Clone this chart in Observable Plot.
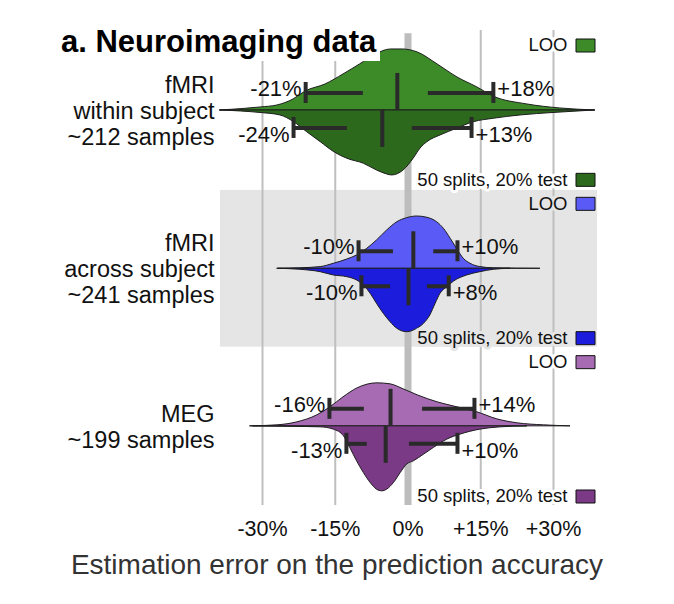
<!DOCTYPE html>
<html><head><meta charset="utf-8">
<script src="https://cdn.jsdelivr.net/npm/d3@7"></script>
<script src="https://cdn.jsdelivr.net/npm/@observablehq/plot@0.6"></script>
<style>
body{margin:0;background:#fff;}
#wrap{position:relative;width:674px;height:604px;}
#wrap svg{position:absolute;left:0;top:0;}
#title{position:absolute;left:57px;top:25px;height:36px;padding:0 4px;background:#fff;font:bold 31px "Liberation Sans";line-height:34px;color:#000;}
#xtitle{position:absolute;left:0;width:674px;top:549px;text-align:center;font:28px "Liberation Sans";color:#333;}
</style></head><body>
<div id="wrap"><div id="title">a. Neuroimaging data</div><div id="xtitle">Estimation error on the prediction accuracy</div></div>
<script>
// ---- data ----
const panelLabels = ["fMRI\nwithin subject\n~212 samples", "fMRI\nacross subject\n~241 samples", "MEG\n~199 samples"];
const methods = ["LOO", "50 splits, 20% test"];
const looColors = ["#3d8a29", "#5a5af6", "#a66bb2"];
const splitColors = ["#2c691d", "#1c1cdc", "#7a3a85"];
const xTicks = [-30, -15, 0, 15, 30];

// violin half-profiles: error (%) and half-height (px)
const withinLooX = [-38.7, -33.9, -30.4, -26.9, -23.6, -21.1, -17.0, -13.3, -9.9, -6.6, -3.5, -1.1, 2.0, 6.1, 10.2, 14.3, 17.6, 24.6, 31.4, 38.6];
const withinLooH = [0, 1.5, 3, 5, 11, 19, 26, 36, 46, 56, 61, 61, 58, 46, 33, 23, 14, 6, 2, 0];
const withinSplitX = [-38.7, -34.5, -30.4, -26.3, -23.5, -20.8, -18.0, -15.2, -12.5, -9.1, -6.4, -4.3, -3.3, -0.9, 1.2, 2.6, 4.0, 6.7, 10.1, 13.6, 17.7, 23.2, 30.0, 38.6];
const withinSplitH = [0, 1, 2.5, 5, 11.7, 21.7, 31.7, 41.7, 48.3, 53.3, 60, 64, 65, 60, 48, 38, 31.7, 25, 18.3, 11.7, 8.3, 5, 2.5, 0];
const acrossLooX = [-26.7, -22.2, -18.0, -15.3, -12.5, -10.5, -8.4, -6.4, -4.3, -2.2, -0.2, 1.9, 4.0, 6.0, 7.4, 8.8, 10.1, 11.5, 12.9, 14.9, 17.7, 27.3];
const acrossLooH = [0, 0.5, 1.7, 5, 9.3, 13.3, 20, 28.3, 38.3, 46.6, 50.6, 52.3, 51, 46.6, 40, 30, 20, 10, 5, 1.7, 0.5, 0];
const acrossSplitX = [-26.9, -22.2, -18.0, -15.3, -12.5, -10.5, -9.1, -7.7, -6.4, -5.0, -3.6, -2.2, -0.2, 1.9, 3.3, 4.6, 5.7, 6.7, 8.1, 9.5, 12.2, 14.9, 17.7, 21.1];
const acrossSplitH = [0, 1, 3.4, 6.7, 8.4, 11.7, 16.7, 25, 35, 45, 53.4, 60, 63.4, 60, 55, 46.7, 35, 25, 18.4, 12.7, 6.7, 3.4, 1, 0];
const megLooX = [-32.5, -26.9, -22.8, -18.7, -16.0, -13.3, -10.4, -6.3, -3.6, -0.9, 2.0, 6.1, 10.2, 14.3, 18.4, 22.6, 28.0, 33.5];
const megLooH = [0, 1, 4, 11, 19, 29, 38, 43, 42, 37, 31, 24, 19, 14, 7, 3, 1, 0];
const megSplitX = [-31.9, -24.0, -18.0, -15.3, -13.2, -11.9, -10.5, -9.1, -7.7, -6.4, -5.3, -4.3, -2.9, -1.5, -0.2, 1.2, 3.3, 5.3, 8.1, 10.8, 14.9, 19.1, 24.6];
const megSplitH = [0, 0.5, 1, 3.3, 10, 21.7, 35, 46.7, 56.7, 63.3, 65, 63.3, 56.7, 46.7, 38.3, 35, 28.3, 21.7, 13.3, 8.3, 3.3, 1, 0];

// box summaries (%): low whisker, q1, median, q3, high whisker
const looLow  = [-21.1, -10.2, -16.2];
const looQ1   = [-9.2, -3.0, -9.0];
const looMed  = [-2.2, 1.1, -3.6];
const looQ3   = [4.2, 5.3, 3.0];
const looHigh = [17.6, 10.2, 13.7];
const splitLow  = [-23.6, -9.6, -12.7];
const splitQ1   = [-12.5, -3.6, -8.4];
const splitMed  = [-5.3, 0.1, -4.6];
const splitQ3   = [0.9, 4.0, 0.3];
const splitHigh = [13.1, 8.4, 10.2];
const looLowLabel = ["-21%", "-10%", "-16%"];
const looHighLabel = ["+18%", "+10%", "+14%"];
const splitLowLabel = ["-24%", "-10%", "-13%"];
const splitHighLabel = ["+13%", "+8%", "+10%"];

// ---- layout ----
const W = 674, H = 604, mT = 30, mB = 99, mL = 220, mR = 77;
const PX = (H - mT - mB) / 3;          // pixels per panel unit
const centers = [0.505, 1.505, 2.50];
const px = v => v / PX;

const profiles = [
  [withinLooX, withinLooH, withinSplitX, withinSplitH],
  [acrossLooX, acrossLooH, acrossSplitX, acrossSplitH],
  [megLooX, megLooH, megSplitX, megSplitH]
];
const violin = [];
profiles.forEach(([lx, lh, sx, sh], p) => {
  lx.forEach((x, i) => violin.push({key: p + "L", x, y1: centers[p], y2: centers[p] - px(lh[i]), color: looColors[p]}));
  sx.forEach((x, i) => violin.push({key: p + "S", x, y1: centers[p], y2: centers[p] + px(sh[i]), color: splitColors[p]}));
});

const boxes = [];
[0, 1, 2].forEach(p => {
  boxes.push({p, side: -1, low: looLow[p], q1: looQ1[p], med: looMed[p], q3: looQ3[p], high: looHigh[p], lowLab: looLowLabel[p], highLab: looHighLabel[p]});
  boxes.push({p, side: 1, low: splitLow[p], q1: splitQ1[p], med: splitMed[p], q3: splitQ3[p], high: splitHigh[p], lowLab: splitLowLabel[p], highLab: splitHighLabel[p]});
});
const wy = b => centers[b.p] + b.side * px(17.5);
const labY = b => centers[b.p] + px(b.side < 0 ? -21.5 : 24.5);

const legend = [];
[0, 1, 2].forEach(p => {
  legend.push({p, text: methods[0], y: p + px(15), color: looColors[p], halo: p === 1 ? "#e5e5e5" : "#fff"});
  legend.push({p, text: methods[1], y: p + 1 - px(9), color: splitColors[p], halo: p === 1 ? "#e5e5e5" : "#fff"});
});

const rectSymbol = {draw(ctx) { ctx.moveTo(-9.5, -6.5); ctx.lineTo(9.5, -6.5); ctx.lineTo(9.5, 6.5); ctx.lineTo(-9.5, 6.5); ctx.closePath(); }};
const boxStroke = "#2a2a2a";
const fmt = d => d > 0 ? "+" + d + "%" : d + "%";

const chart = Plot.plot({
  width: W, height: H,
  marginTop: mT, marginBottom: mB, marginLeft: mL, marginRight: mR,
  style: {fontFamily: "Liberation Sans", background: "transparent"},
  x: {domain: [-38.66, 39.07], label: null},
  y: {domain: [3, 0], axis: null},
  color: {type: "identity"},
  marks: [
    Plot.rect([1], {x1: -38.66, x2: 39.07, y1: 1.01, y2: 2, fill: "#e5e5e5"}),
    Plot.ruleX(xTicks.filter(d => d !== 0), {y1: 0, y2: 3, stroke: "#bfbfbf", strokeWidth: 2}),
    Plot.ruleX([0], {y1: 0.02, y2: 3, stroke: "#bdbdbd", strokeWidth: 7}),
    Plot.areaY(violin, {x: "x", y1: "y1", y2: "y2", z: "key", fill: "color", stroke: "#1e1e1e", strokeWidth: 1, curve: "monotone-x"}),
    Plot.ruleY(boxes, {y: wy, x1: "low", x2: "q1", stroke: boxStroke, strokeWidth: 4}),
    Plot.ruleY(boxes, {y: wy, x1: "q3", x2: "high", stroke: boxStroke, strokeWidth: 4}),
    Plot.ruleX(boxes, {x: "low", y1: b => wy(b) - px(10.5), y2: b => wy(b) + px(10.5), stroke: boxStroke, strokeWidth: 4}),
    Plot.ruleX(boxes, {x: "high", y1: b => wy(b) - px(10.5), y2: b => wy(b) + px(10.5), stroke: boxStroke, strokeWidth: 4}),
    Plot.ruleX(boxes, {x: "med", y1: b => centers[b.p], y2: b => centers[b.p] + b.side * px(37), stroke: boxStroke, strokeWidth: 4}),
    Plot.text(boxes, {x: "low", y: labY, text: "lowLab", textAnchor: "end", dx: -4, fontSize: 22, fill: "#111"}),
    Plot.text(boxes, {x: "high", y: labY, text: "highLab", textAnchor: "start", dx: 4, fontSize: 22, fill: "#111"}),
    Plot.text(panelLabels, {frameAnchor: "left", y: (d, i) => centers[i], text: d => d, textAnchor: "end", dx: -6, fontSize: 23.5, lineHeight: 1.1, fill: "#111"}),
    Plot.text(legend, {frameAnchor: "right", y: "y", text: "text", textAnchor: "end", dx: -30, fontSize: 18.5, fill: "#111", stroke: "halo", strokeWidth: 6, paintOrder: "stroke"}),
    Plot.dot(legend, {frameAnchor: "right", y: "y", dx: -12, symbol: rectSymbol, fill: "color", stroke: "#111", strokeWidth: 1}),
    Plot.axisX({ticks: xTicks, tickSize: 0, tickPadding: 15, tickFormat: fmt, fontSize: 21.5, label: null, fill: "#111"})
  ]
});
document.getElementById("wrap").prepend(chart);
</script>
</body></html>
